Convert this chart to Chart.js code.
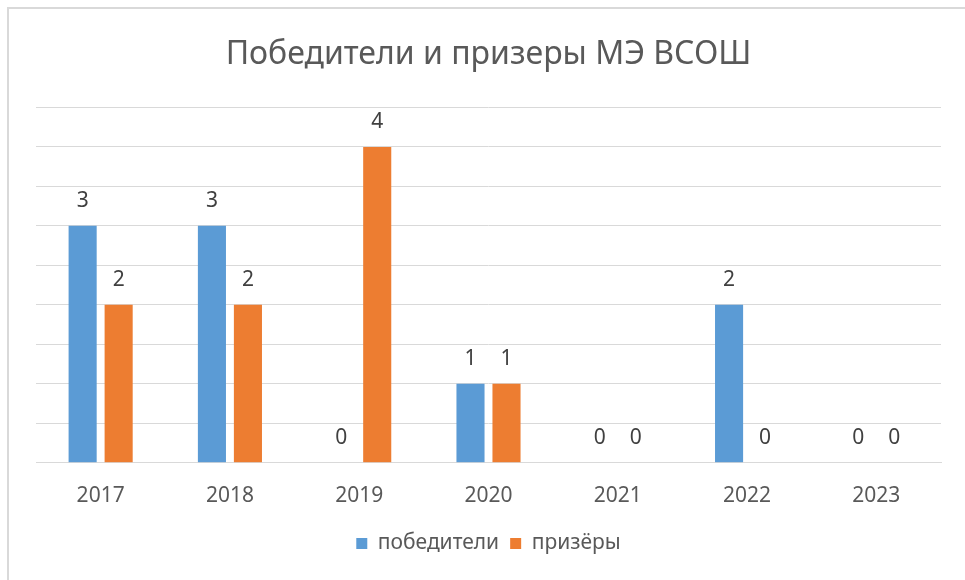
<!DOCTYPE html>
<html lang="ru">
<head>
    <meta charset="UTF-8">
    <title>Победители и призеры МЭ ВСОШ</title>
    <script src="https://cdn.jsdelivr.net/npm/chart.js@4.4.1/dist/chart.umd.min.js"></script>
    <style>
        html, body { margin: 0; padding: 0; background: #fff; }
        #wrap { position: relative; width: 965px; height: 580px; overflow: hidden; }
        #frame { position: absolute; left: 7px; top: 7px; width: 1000px; height: 1000px;
                 border-top: 2px solid #d9d9d9; border-left: 2px solid #d9d9d9; }
        canvas { position: absolute; left: 0; top: 0; }
    </style>
</head>
<body>
<div id="wrap">
    <div id="frame"></div>
    <canvas id="barChart" width="965" height="580"></canvas>
</div>
<script>
    const years = ['2017', '2018', '2019', '2020', '2021', '2022', '2023'];
    const winners = [3, 3, 0, 1, 0, 2, 0];
    const prizers = [2, 2, 4, 1, 0, 0, 0];
    const yMax = 4.5;
    const yStep = 0.5;

    const fontFamily = "'Noto Sans', sans-serif";
    const textColor = '#595959';

    // подписи значений над столбцами
    const valueLabels = {
        id: 'valueLabels',
        afterDatasetsDraw(chart) {
            const ctx = chart.ctx;
            ctx.save();
            ctx.font = '21px ' + fontFamily;
            ctx.fillStyle = '#404040';
            ctx.textAlign = 'center';
            ctx.textBaseline = 'middle';
            chart.data.datasets.forEach((ds, i) => {
                chart.getDatasetMeta(i).data.forEach((bar, k) => {
                    ctx.fillText(String(ds.data[k]), bar.x, bar.y - 25);
                });
            });
            ctx.restore();
        }
    };

    new Chart(document.getElementById('barChart'), {
        type: 'bar',
        data: {
            labels: years,
            datasets: [{
                label: 'победители',
                data: winners,
                backgroundColor: '#5b9bd5',
                barPercentage: 0.78,
                categoryPercentage: 0.557
            }, {
                label: 'призёры',
                data: prizers,
                backgroundColor: '#ed7d31',
                barPercentage: 0.78,
                categoryPercentage: 0.557
            }]
        },
        options: {
            responsive: false,
            animation: false,
            layout: {padding: {left: 36, right: 24, top: 0, bottom: 16}},
            scales: {
                x: {
                    grid: {display: false},
                    border: {color: '#d9d9d9', width: 1},
                    ticks: {color: textColor, font: {family: fontFamily, size: 21}, padding: 13}
                },
                y: {
                    min: 0,
                    max: yMax,
                    ticks: {display: false, stepSize: yStep},
                    grid: {color: '#d9d9d9', drawTicks: false},
                    border: {display: false},
                    afterFit(scale) { scale.width = 0; }
                }
            },
            plugins: {
                title: {
                    display: true,
                    text: 'Победители и призеры МЭ ВСОШ',
                    color: textColor,
                    font: {family: fontFamily, size: 32, weight: 'normal'},
                    padding: {top: 36, bottom: 33}
                },
                legend: {
                    position: 'bottom',
                    labels: {
                        color: textColor,
                        font: {family: fontFamily, size: 21},
                        boxWidth: 11,
                        boxHeight: 11,
                        padding: 11
                    }
                },
                tooltip: {enabled: false}
            }
        },
        plugins: [valueLabels]
    });
</script>
</body>
</html>
